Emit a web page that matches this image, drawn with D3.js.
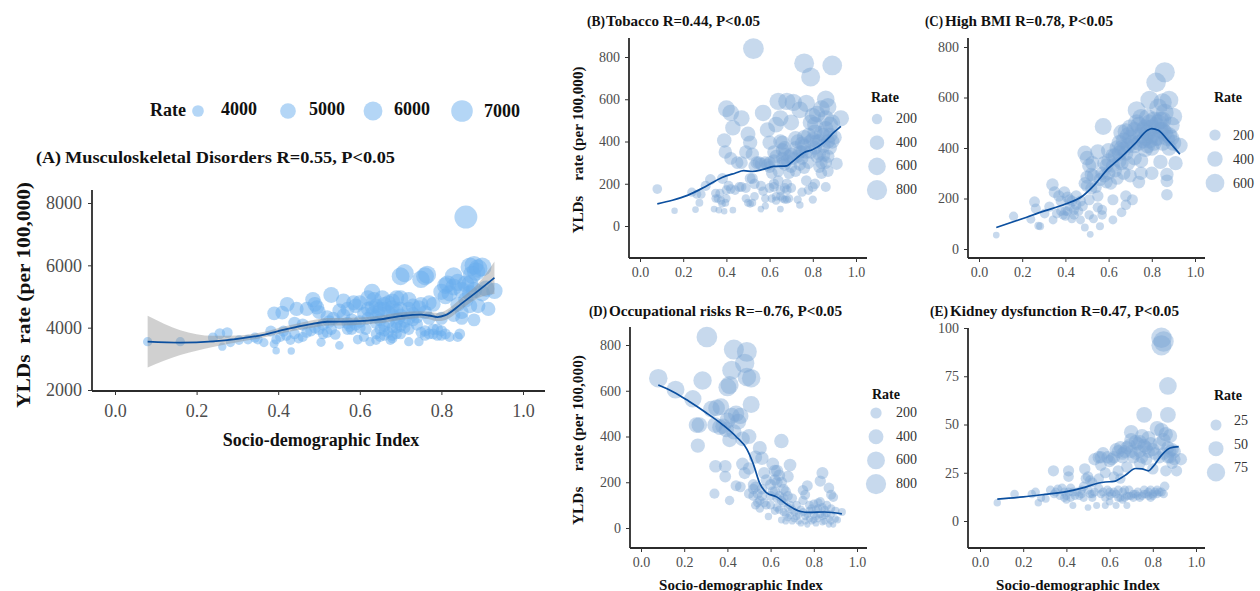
<!DOCTYPE html>
<html><head><meta charset="utf-8">
<script src="https://cdn.jsdelivr.net/npm/d3@7"></script>
<style>
html,body{margin:0;padding:0;background:#fff;overflow:hidden}
svg{display:block}
text{font-family:"Liberation Serif",serif}
</style></head><body><svg id="c" width="1260" height="591"></svg>
<script>
const sdiTicks=[0,0.2,0.4,0.6,0.8,1.0];
const pointsA=[[.08,3550],[.16,3550],[.24,3680],[.257,3810],[.275,3840],[.263,3390],[.283,3520],[.304,3600],[.326,3620],[.343,3680],[.35,3620],[.365,3520],[.382,3890],[.39,3480],[.395,3260],[.432,3250],[.395,3620],[.405,3700],[.413,3890],[.39,4460],[.41,4480],[.422,4750],[.43,3600],[.42,3750],[.445,4600],[.47,4600],[.44,4150],[.46,4100],[.45,3650],[.46,3700],[.485,4900],[.49,4750],[.495,4650],[.5,4500],[.49,4000],[.5,3950],[.505,3530],[.51,3800],[.52,3850],[.525,4200],[.53,5050],[.52,4350],[.535,4300],[.54,3780],[.55,3430],[.56,4850],[.55,4150],[.56,4400],[.57,4150],[.575,4050],[.58,3950],[.585,4800],[.6,4800],[.59,4100],[.595,3620],[.61,3700],[.615,3950],[.62,4300],[.625,3550],[.63,5150],[.635,4900],[.64,4700],[.645,4500],[.64,3800],[.64,3600],[.65,3700],[.655,4950],[.66,4600],[.67,4800],[.68,4850],[.67,4200],[.68,4000],[.675,3600],[.69,3800],[.695,4300],[.7,4950],[.69,4550],[.7,5650],[.71,5750],[.72,4900],[.72,4600],[.71,4200],[.72,3550],[.73,4700],[.745,4650],[.74,4100],[.75,3850],[.745,3550],[.75,5550],[.76,5650],[.765,5700],[.77,4800],[.78,4750],[.76,3900],[.78,3800],[.79,3750],[.8,3900],[.8,4300],[.81,5350],[.8,5150],[.815,5400],[.81,5000],[.82,3700],[.83,5650],[.84,5450],[.83,4400],[.84,3700],[.845,3800],[.85,4300],[.86,5400],[.86,7550],[.87,5950],[.875,5700],[.88,6000],[.885,5800],[.89,5900],[.9,5950],[.88,5200],[.88,4250],[.89,4700],[.9,5100],[.91,5250],[.915,4600],[.93,5180],[.86,4900],[.85,4500],[.87,4700],[.62,4600],[.63,4450],[.65,4250],[.66,4050],[.66,3900],[.68,3750],[.68,4400],[.69,4150],[.7,4050],[.7,3800],[.72,4300],[.73,4450],[.76,4500],[.77,4300],[.79,3950],[.6,4200],[.61,4450],[.58,4250],[.57,3950],[.53,3950],[.51,4100],[.48,3900],[.47,3850],[.44,3800],[.82,5100],[.85,5200],[.87,5400],[.84,4750],[.62,4950],[.63,4650],[.64,4350],[.64,4150],[.65,4600],[.65,3950],[.66,4750],[.66,3750],[.67,4500],[.67,3850],[.68,4650],[.68,3650],[.69,4950],[.69,4000],[.7,4400],[.7,4600],[.71,4000],[.72,3950],[.73,4250],[.74,4350],[.75,4750],[.76,3750],[.77,3800],[.78,3950],[.8,3750],[.81,3800],[.57,4600],[.6,4000],[.59,4700],[.55,4550],[.83,5300],[.87,5100]];
const lineA=[[.08,3550],[.16,3520],[.24,3560],[.3,3640],[.36,3760],[.42,3950],[.48,4110],[.52,4190],[.58,4200],[.64,4250],[.7,4370],[.75,4420],[.77,4390],[.79,4340],[.81,4400],[.85,4780],[.89,5180],[.93,5600]];
const ribbonLowA=[2720,3120,3380,3530,3670,3850,3990,4070,4080,4130,4250,4310,4270,4210,4250,4600,4950,5080];
const ribbonHighA=[4380,3920,3740,3750,3850,4050,4230,4310,4320,4370,4490,4530,4510,4470,4550,4960,5410,6120];

const pointsB=[[.08,175],[.16,72],[.24,160],[.257,78],[.275,110],[.263,150],[.283,150],[.304,190],[.326,220],[.343,80],[.35,155],[.365,75],[.382,225],[.36,130],[.375,120],[.39,70],[.395,110],[.4,170],[.41,190],[.43,75],[.39,405],[.395,350],[.4,555],[.42,535],[.42,320],[.43,465],[.45,300],[.47,300],[.47,185],[.47,510],[.49,350],[.49,180],[.5,435],[.49,130],[.51,105],[.51,225],[.51,395],[.52,110],[.52,340],[.53,140],[.53,285],[.53,200],[.55,300],[.56,190],[.56,80],[.57,535],[.57,165],[.58,130],[.58,95],[.58,300],[.59,455],[.6,395],[.6,180],[.62,185],[.62,310],[.63,120],[.63,480],[.64,590],[.64,215],[.65,80],[.65,170],[.65,140],[.65,510],[.66,395],[.66,360],[.66,300],[.67,340],[.67,125],[.68,200],[.68,590],[.68,170],[.69,130],[.7,490],[.7,340],[.7,280],[.71,585],[.72,260],[.72,415],[.73,125],[.74,100],[.74,550],[.75,390],[.75,160],[.75,350],[.76,770],[.76,420],[.76,275],[.77,580],[.77,215],[.78,170],[.79,705],[.79,490],[.79,400],[.8,125],[.8,520],[.8,185],[.81,445],[.81,200],[.82,330],[.82,530],[.83,280],[.83,400],[.84,250],[.84,555],[.85,335],[.85,430],[.86,600],[.86,300],[.86,185],[.86,510],[.87,260],[.87,565],[.88,370],[.88,430],[.89,760],[.89,490],[.9,420],[.91,295],[.93,510],[.6,280],[.62,350],[.64,260],[.67,290],[.69,250],[.73,330],[.74,290],[.78,300],[.81,370],[.84,300],[.87,400],[.61,130],[.63,140],[.68,125],[.7,180],[.56,295],[.52,225],[.54,300],[.46,185],[.44,170],[.37,155],[.35,130],[.525,840],[.63,330],[.65,400],[.66,320],[.67,370],[.68,310],[.69,330],[.71,320],[.72,370],[.73,400],[.74,350],[.75,320],[.76,380],[.77,350],[.78,430],[.79,350],[.8,410],[.81,480],[.82,400],[.83,340],[.84,440],[.85,380],[.86,460],[.87,330],[.88,480],[.89,400],[.6,300],[.61,250],[.59,290],[.5,110],[.62,200],[.66,130],[.67,180],[.42,175],[.38,105],[.4,130]];
const lineB=[[.08,105],[.15,122],[.22,145],[.3,185],[.38,230],[.44,250],[.48,262],[.52,258],[.57,268],[.62,282],[.68,285],[.7,300],[.76,348],[.8,362],[.85,395],[.9,445],[.93,472]];

const pointsC=[[.08,55],[.16,130],[.24,118],[.257,187],[.263,160],[.275,92],[.283,90],[.304,140],[.326,168],[.343,115],[.34,255],[.35,225],[.36,140],[.37,210],[.38,190],[.39,135],[.395,225],[.4,150],[.41,205],[.42,195],[.43,120],[.44,155],[.45,210],[.46,150],[.47,115],[.48,170],[.49,85],[.49,260],[.49,380],[.5,360],[.5,285],[.51,195],[.51,135],[.51,330],[.515,58],[.52,240],[.52,295],[.525,340],[.53,120],[.54,245],[.55,165],[.55,385],[.56,275],[.56,90],[.57,155],[.57,135],[.575,485],[.58,340],[.59,265],[.6,300],[.6,390],[.62,115],[.62,195],[.62,330],[.63,370],[.64,280],[.65,420],[.65,350],[.66,145],[.66,460],[.67,300],[.67,395],[.68,210],[.68,175],[.68,465],[.69,340],[.7,290],[.7,440],[.71,195],[.72,410],[.72,360],[.73,550],[.74,265],[.74,490],[.75,300],[.75,350],[.76,430],[.77,395],[.78,520],[.78,460],[.79,590],[.8,300],[.8,400],[.81,510],[.82,660],[.83,560],[.83,440],[.84,345],[.84,510],[.85,580],[.85,420],[.86,700],[.86,540],[.87,295],[.87,215],[.87,270],[.88,590],[.88,450],[.89,490],[.9,525],[.9,420],[.91,340],[.93,410],[.6,350],[.63,310],[.66,400],[.69,410],[.7,480],[.74,420],[.76,470],[.78,410],[.8,480],[.82,440],[.84,470],[.86,460],[.53,290],[.55,210],[.58,290],[.61,260],[.41,150],[.43,190],[.38,150],[.45,175],[.62,370],[.64,400],[.65,380],[.67,430],[.68,380],[.69,450],[.71,420],[.72,470],[.73,500],[.75,450],[.75,520],[.77,480],[.77,440],[.79,430],[.79,500],[.8,450],[.81,420],[.82,490],[.83,500],[.85,470],[.85,510],[.87,440],[.88,400],[.89,440],[.66,340],[.59,330],[.57,300],[.5,250],[.47,190],[.44,135],[.4,130],[.42,170]];
const lineC=[[.08,85],[.2,120],[.3,150],[.4,178],[.48,210],[.53,250],[.6,320],[.66,365],[.72,415],[.78,470],[.8,477],[.83,470],[.88,425],[.93,375]];

const pointsD=[[.08,655],[.16,605],[.24,565],[.257,450],[.263,360],[.27,450],[.285,645],[.305,835],[.326,520],[.34,150],[.343,450],[.345,270],[.35,525],[.365,440],[.37,530],[.39,225],[.39,270],[.395,430],[.4,615],[.41,625],[.41,120],[.41,385],[.42,490],[.42,690],[.43,780],[.43,420],[.44,185],[.45,465],[.46,180],[.46,490],[.47,280],[.47,390],[.48,240],[.48,720],[.49,770],[.49,660],[.5,400],[.5,260],[.5,150],[.51,655],[.51,540],[.52,190],[.52,170],[.53,100],[.53,310],[.54,150],[.55,350],[.55,85],[.56,305],[.56,170],[.57,240],[.57,110],[.58,210],[.59,50],[.6,100],[.6,190],[.61,280],[.62,75],[.62,250],[.63,200],[.63,130],[.64,230],[.65,380],[.65,35],[.66,110],[.66,70],[.67,30],[.67,160],[.68,225],[.68,90],[.69,275],[.69,55],[.7,130],[.7,30],[.72,100],[.73,60],[.74,20],[.75,165],[.75,120],[.76,50],[.76,145],[.77,15],[.77,185],[.78,75],[.79,30],[.8,105],[.8,60],[.81,20],[.82,85],[.82,40],[.83,115],[.83,205],[.84,240],[.84,25],[.85,80],[.85,55],[.86,100],[.87,15],[.87,175],[.88,145],[.88,60],[.89,135],[.89,15],[.9,75],[.91,35],[.93,70],[.6,140],[.64,140],[.66,170],[.68,140],[.7,80],[.72,50],[.74,80],[.78,100],[.81,80],[.84,90],[.88,85],[.52,140],[.54,110],[.56,140],[.58,100],[.62,160],[.63,90],[.64,80],[.65,120],[.67,60],[.68,45],[.69,100],[.71,70],[.71,40],[.73,30],[.75,70],[.76,30],[.77,60],[.78,40],[.79,85],[.8,35],[.81,50],[.82,110],[.83,60],[.84,50],[.85,30],[.86,65],[.87,40],[.88,30],[.9,40],[.55,120],[.53,180],[.61,160],[.62,210],[.63,250],[.65,200],[.66,130],[.44,500],[.4,470],[.38,445]];
const lineD=[[.08,625],[.15,595],[.22,555],[.3,505],[.38,450],[.44,400],[.49,345],[.52,280],[.55,195],[.58,155],[.63,135],[.68,100],[.74,72],[.78,68],[.85,70],[.93,62]];

const pointsE=[[.08,9.5],[.16,14],[.24,14],[.257,15],[.27,9.5],[.283,12],[.304,11.5],[.326,16],[.34,26],[.343,14],[.36,16.5],[.37,13],[.38,17],[.39,12],[.4,11],[.41,23],[.41,26],[.42,17],[.43,15],[.43,8],[.45,15],[.46,13],[.47,16],[.48,12],[.485,27],[.49,22],[.5,7],[.5,23],[.51,14],[.51,21],[.52,20],[.52,12],[.53,32],[.54,8],[.55,33],[.55,17],[.56,29],[.57,35],[.57,15],[.58,25],[.58,8],[.59,33],[.6,10],[.6,13],[.61,32],[.62,23],[.62,15],[.63,37],[.63,8],[.64,26],[.64,12],[.65,38],[.66,35],[.66,11],[.67,16],[.67,36],[.68,28],[.68,8],[.69,13],[.7,46],[.7,42],[.71,14],[.72,35],[.73,40],[.73,13],[.74,12],[.74,30],[.75,44],[.76,55],[.76,16],[.77,38],[.78,13],[.78,43],[.79,12],[.8,27],[.8,37],[.81,15],[.82,48],[.82,14],[.83,33],[.84,95],[.84,91],[.84,47],[.85,93],[.85,14],[.855,18],[.86,45],[.86,26],[.87,70],[.87,55],[.87,33],[.88,44],[.89,30],[.9,36],[.91,26],[.93,32],[.6,15],[.64,16],[.66,15],[.68,13],[.7,13],[.72,14],[.76,14],[.78,15],[.8,14],[.83,15],[.85,35],[.88,36],[.9,32],[.62,33],[.69,39],[.74,36],[.77,32],[.44,13],[.5,16],[.53,15],[.55,22],[.35,15],[.39,15],[.4,13],[.41,15],[.42,12],[.47,14],[.48,18],[.52,14],[.56,14],[.58,12],[.59,16],[.61,14],[.63,14],[.65,12],[.67,12],[.69,16],[.71,12],[.73,15],[.75,13],[.77,14],[.79,16],[.8,13],[.82,16],[.84,15],[.64,36],[.66,33],[.68,38],[.7,36],[.71,33],[.72,41],[.74,41],[.75,33],[.76,39],[.78,36],[.79,40],[.81,35],[.83,40],[.85,42],[.87,38],[.88,33],[.89,37],[.56,33],[.6,31],[.65,22]];
const lineE=[[.08,11.3],[.2,12.5],[.3,13.8],[.4,15.2],[.48,17.3],[.55,19.7],[.58,20.2],[.62,20.5],[.67,23.5],[.72,27.2],[.75,27],[.78,26],[.8,28],[.84,34],[.88,37.8],[.92,38.5]];

const ticksA=[2000,4000,6000,8000], ticksB=[0,200,400,600,800], ticksC=[0,200,400,600,800], ticksD=[0,200,400,600,800], ticksE=[0,25,50,75,100];
const legendA=[4000,5000,6000,7000], legendB=[200,400,600,800], legendC=[200,400,600], legendD=[200,400,600,800], legendE=[25,50,75];

const svg=d3.select("#c");
const TICK="#4d4d4d", LINE="#0b4f9f";

function panel(o){
  const x=d3.scaleLinear().domain([0,1]).range(o.xr);
  const y=d3.scaleLinear().domain(o.yd).range(o.yr);
  const r=d3.scaleRadial().domain(o.sd).range(o.rr);
  const g=svg.append("g");
  g.selectAll("circle.p").data(o.pts).join("circle").attr("class","p")
    .attr("cx",d=>x(d[0])).attr("cy",d=>y(d[1])).attr("r",d=>r(d[1]))
    .attr("fill",o.fill).attr("fill-opacity",o.op);
  if(o.low){
    g.append("path").datum(o.line.map((d,i)=>[d[0],o.low[i],o.high[i]]))
      .attr("d",d3.area().x(d=>x(d[0])).y0(d=>y(d[1])).y1(d=>y(d[2])).curve(d3.curveMonotoneX))
      .attr("fill","#8f8f8f").attr("fill-opacity",.42);
  }
  g.append("path").datum(o.line)
    .attr("d",d3.line().x(d=>x(d[0])).y(d=>y(d[1])).curve(d3.curveMonotoneX))
    .attr("fill","none").attr("stroke",LINE).attr("stroke-width",o.lw);
  const ax=g.append("g").attr("transform",`translate(0,${o.axisY})`)
    .call(d3.axisBottom(x).tickValues(sdiTicks).tickFormat(d3.format(".1f")).tickSize(4).tickSizeOuter(0).tickPadding(o.pad));
  const ay=g.append("g").attr("transform",`translate(${o.axisX},0)`)
    .call(d3.axisLeft(y).tickValues(o.ticks).tickSize(4).tickFormat(d=>d).tickPadding(o.padY||o.pad));
  [ax,ay].forEach(a=>{
    a.selectAll("text").attr("font-family","Liberation Serif").attr("font-size",o.fs).attr("fill",TICK);
    a.selectAll(".tick line").attr("stroke","#333").attr("stroke-width",1);
  });
  ax.select(".domain").attr("d",`M${o.axisX},0H${o.xEnd}`).attr("stroke","#2b2b2b").attr("stroke-width",1.8);
  ay.select(".domain").attr("d",`M0,${o.yTop}V${o.axisY}`).attr("stroke","#2b2b2b").attr("stroke-width",1.8);
  g.append("text").attr("x",o.tx).attr("y",o.ty).attr("font-size",o.tfs).attr("font-weight","bold").attr("fill","#111").attr("textLength",o.tpw).attr("lengthAdjust","spacingAndGlyphs").text(o.tag);
  g.append("text").attr("x",o.tx2).attr("y",o.ty).attr("font-size",o.tfs).attr("font-weight","bold").attr("fill","#111").attr("textLength",o.tw).attr("lengthAdjust","spacingAndGlyphs").text(o.title);
  if(o.ylab){
    g.append("text").attr("transform",`translate(${o.ylab[0]},${o.ylab[1]}) rotate(-90)`).attr("text-anchor","middle")
     .attr("font-size",o.ylab[2]).attr("font-weight","bold").attr("fill","#111").attr("textLength",o.ylab[3]).attr("lengthAdjust","spacingAndGlyphs").style("white-space","pre").text(o.ylabT);
  }
  if(o.xlab){
    g.append("text").attr("x",o.xlab[0]).attr("y",o.xlab[1]).attr("text-anchor","middle")
     .attr("font-size",o.xlab[2]).attr("font-weight","bold").attr("fill","#111").text("Socio-demographic Index");
  }
  if(o.leg){
    const L=o.leg;
    g.append("text").attr("x",L.rx).attr("y",L.ry).attr("font-size",L.rfs).attr("font-weight","bold").attr("fill","#111").text("Rate");
    g.selectAll("circle.l").data(L.vals).join("circle").attr("class","l")
      .attr("cx",L.cx).attr("cy",(d,i)=>L.c0+i*L.dy).attr("r",d=>r(d)).attr("fill",o.fill).attr("fill-opacity",o.op);
    g.selectAll("text.l").data(L.vals).join("text").attr("class","l")
      .attr("x",L.lx).attr("y",(d,i)=>L.l0+i*L.dy).attr("font-size",L.fs).attr("fill","#333").text(d=>d);
  }
}
const common={fill:"#7aa4d5",op:.42,lw:1.7,fs:14,pad:5,tfs:14,xEnd:0,rr:[3,10.5]};
panel({pts:pointsA,line:lineA,low:ribbonLowA,high:ribbonHighA,fill:"#6aaeee",op:.5,lw:1.8,fs:18,pad:9,padY:6,
  xr:[115,523],yd:[2000,8000],yr:[390,203],sd:[3200,8000],rr:[3.5,12],ticks:ticksA,axisX:92,axisY:391,xEnd:545,yTop:190,
  tx:36,tx2:65,ty:163,tfs:17.5,tag:"(A)",tpw:25,title:"Musculoskeletal Disorders R=0.55, P<0.05",tw:330,
  ylab:[30,295,19.5,226],ylabT:"YLDs  rate (per 100,000)",xlab:[321,446,18]});
panel({...common,pts:pointsB,line:lineB,xr:[640,856],yd:[0,800],yr:[226,57],sd:[60,860],ticks:ticksB,axisX:629,axisY:258,xEnd:867,yTop:38,
  tx:587,tx2:606,ty:26,tag:"(B)",tpw:18,title:"Tobacco R=0.44, P<0.05",tw:154,
  ylab:[583,150,14.5,167],ylabT:"YLDs    rate (per 100,000)",
  leg:{vals:legendB,rx:871,ry:102,rfs:14,cx:877,c0:119,dy:23.7,lx:896,l0:123,fs:14}});
panel({...common,pts:pointsC,line:lineC,xr:[979,1195],yd:[0,800],yr:[249,47],sd:[40,760],ticks:ticksC,axisX:968,axisY:258,xEnd:1205,yTop:38,
  tx:925,tx2:945,ty:26,tag:"(C)",tpw:18,title:"High BMI R=0.78, P<0.05",tw:168,
  leg:{vals:legendC,rx:1214,ry:102,rfs:14,cx:1215,c0:135,dy:24,lx:1233,l0:140,fs:14}});
panel({...common,pts:pointsD,line:lineD,xr:[641,857],yd:[0,800],yr:[528,345],sd:[10,860],ticks:ticksD,axisX:630,axisY:548,xEnd:867,yTop:327,
  tx:589,tx2:609,ty:316,tag:"(D)",tpw:18,title:"Occupational risks R=\u22120.76, P<0.05",tw:233,
  ylab:[583,440,14.5,170],ylabT:"YLDs    rate (per 100,000)",xlab:[741,590,15],
  leg:{vals:legendD,rx:872,ry:399,rfs:14,cx:876,c0:413,dy:23.7,lx:896,l0:417,fs:14}});
panel({...common,pts:pointsE,line:lineE,xr:[980,1196],yd:[0,100],yr:[521,328],sd:[5,100],ticks:ticksE,axisX:968,axisY:548,xEnd:1205,yTop:328,
  tx:930,tx2:950,ty:316,tag:"(E)",tpw:18,title:"Kidney dysfunction R=0.47, P<0.05",tw:229,
  xlab:[1078,590,15],
  leg:{vals:legendE,rx:1214,ry:400,rfs:14,cx:1216,c0:425,dy:23.7,lx:1234,l0:425,fs:14}});
(function(){
  const r=d3.scaleRadial().domain([3200,8000]).range([3.5,12]);
  const cxs=[198,288,373,462], lxs=[221,309,394,484];
  const g=svg.append("g");
  g.append("text").attr("x",150).attr("y",116).attr("font-size",18).attr("font-weight","bold").attr("fill","#111").text("Rate");
  g.selectAll("circle").data(legendA).join("circle").attr("cx",(d,i)=>cxs[i]).attr("cy",111).attr("r",d=>r(d)).attr("fill","#6aaeee").attr("fill-opacity",.5);
  g.selectAll("text.v").data(legendA).join("text").attr("class","v").attr("x",(d,i)=>lxs[i]).attr("y",(d,i)=>115+(i==3?2:0)).attr("font-size",18).attr("font-weight","bold").attr("fill","#111").text(d=>d);
})();
</script></body></html>
